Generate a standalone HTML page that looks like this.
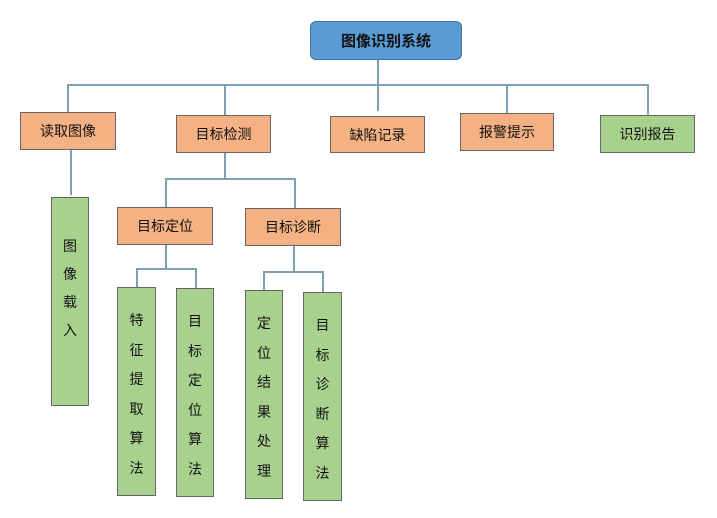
<!DOCTYPE html>
<html><head><meta charset="utf-8"><style>
body{margin:0;width:717px;height:518px;background:#fff;position:relative;overflow:hidden;font-family:"Liberation Sans","Noto Sans CJK SC",sans-serif;}
.b{position:absolute;box-sizing:border-box;border:1.5px solid #666;display:flex;align-items:center;justify-content:center;font-size:14px;color:#111;}
.o{background:#f4b183;}
.g{background:#a9d18e;}
.v{flex-direction:column;justify-content:flex-start;padding-top:18px;line-height:29.5px;}
.l{position:absolute;background:#7f9fb3;}
.h{height:1.5px}.w{width:1.5px}
</style></head><body>
<div class="b" style="left:310px;top:21px;width:152px;height:39px;background:#5b9bd5;border-color:#41719c;border-radius:6px;font-weight:bold;font-size:15px;">图像识别系统</div>
<div class="l w" style="left:377px;top:60px;height:51px"></div>
<div class="l h" style="left:67px;top:84px;width:581px"></div>
<div class="l w" style="left:67px;top:84px;height:28px"></div>
<div class="l w" style="left:224px;top:84px;height:31px"></div>
<div class="l w" style="left:506px;top:84px;height:29px"></div>
<div class="l w" style="left:647px;top:84px;height:31px"></div>
<div class="b o" style="left:20px;top:112px;width:96px;height:38px">读取图像</div>
<div class="b o" style="left:176px;top:115px;width:95px;height:38px">目标检测</div>
<div class="b o" style="left:330px;top:116px;width:95px;height:37px">缺陷记录</div>
<div class="b o" style="left:460px;top:113px;width:94px;height:38px">报警提示</div>
<div class="b g" style="left:600px;top:115px;width:95px;height:38px">识别报告</div>
<div class="l w" style="left:70px;top:150px;height:45px"></div>
<div class="b g v" style="left:51px;top:197px;width:38px;height:209px;padding-top:34px;line-height:28px">图<br>像<br>载<br>入</div>
<div class="l w" style="left:224px;top:153px;height:26px"></div>
<div class="l h" style="left:165px;top:178px;width:130px"></div>
<div class="l w" style="left:165px;top:178px;height:29px"></div>
<div class="l w" style="left:294px;top:178px;height:30px"></div>
<div class="b o" style="left:117px;top:207px;width:96px;height:38px">目标定位</div>
<div class="b o" style="left:245px;top:208px;width:96px;height:38px">目标诊断</div>
<div class="l w" style="left:165px;top:245px;height:24px"></div>
<div class="l h" style="left:136px;top:268px;width:60px"></div>
<div class="l w" style="left:136px;top:268px;height:19px"></div>
<div class="l w" style="left:195px;top:268px;height:20px"></div>
<div class="l w" style="left:293px;top:246px;height:26px"></div>
<div class="l h" style="left:263px;top:271px;width:60px"></div>
<div class="l w" style="left:263px;top:271px;height:19px"></div>
<div class="l w" style="left:322px;top:271px;height:21px"></div>
<div class="b g v" style="left:117px;top:287px;width:39px;height:209px">特<br>征<br>提<br>取<br>算<br>法</div>
<div class="b g v" style="left:176px;top:288px;width:38px;height:209px">目<br>标<br>定<br>位<br>算<br>法</div>
<div class="b g v" style="left:245px;top:290px;width:38px;height:209px">定<br>位<br>结<br>果<br>处<br>理</div>
<div class="b g v" style="left:303px;top:292px;width:39px;height:209px">目<br>标<br>诊<br>断<br>算<br>法</div>
</body></html>
